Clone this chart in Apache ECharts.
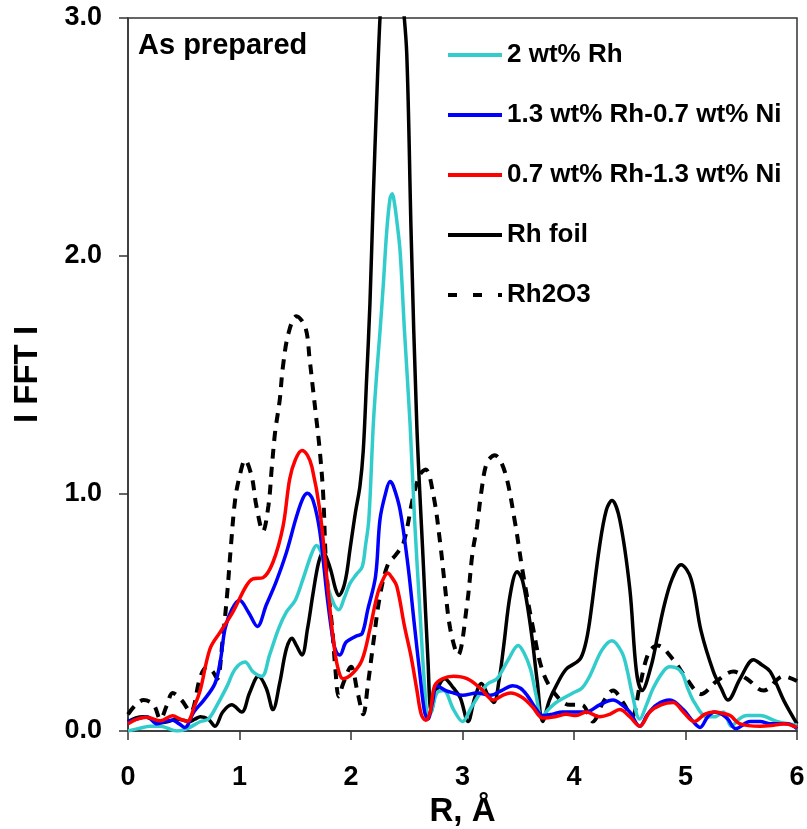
<!DOCTYPE html>
<html>
<head>
<meta charset="utf-8">
<script src="https://cdn.jsdelivr.net/npm/echarts@6/dist/echarts.min.js"></script>
<style>
html,body{margin:0;padding:0;background:#fff;}
#chart{width:807px;height:829px;}
</style>
</head>
<body>
<div id="chart"></div>
<script>
// ---- data ----
var seriesNames = ["2 wt% Rh", "1.3 wt% Rh-0.7 wt% Ni", "0.7 wt% Rh-1.3 wt% Ni", "Rh foil", "Rh2O3"];
var xTicks = [0, 1, 2, 3, 4, 5, 6];
var yTicks = [0.0, 1.0, 2.0, 3.0];

var rh2 = [[0.00,0.00],[0.09,0.01],[0.20,0.02],[0.29,0.02],[0.44,0.00],[0.53,0.01],[0.65,0.04],[0.72,0.05],[0.80,0.11],[0.89,0.19],[0.96,0.26],[1.05,0.29],[1.12,0.25],[1.20,0.23],[1.27,0.32],[1.35,0.43],[1.42,0.50],[1.50,0.55],[1.57,0.64],[1.65,0.75],[1.69,0.78],[1.74,0.74],[1.79,0.61],[1.85,0.53],[1.89,0.51],[1.94,0.56],[1.99,0.62],[2.05,0.66],[2.10,0.69],[2.13,0.78],[2.16,0.89],[2.20,1.29],[2.23,1.50],[2.26,1.68],[2.29,1.88],[2.32,2.10],[2.35,2.24],[2.37,2.26],[2.39,2.22],[2.41,2.15],[2.44,2.02],[2.48,1.68],[2.53,1.29],[2.57,0.89],[2.62,0.49],[2.66,0.19],[2.69,0.07],[2.72,0.08],[2.77,0.16],[2.83,0.17],[2.92,0.09],[3.00,0.04],[3.08,0.10],[3.16,0.16],[3.23,0.20],[3.31,0.22],[3.41,0.30],[3.50,0.36],[3.55,0.33],[3.61,0.26],[3.66,0.15],[3.71,0.06],[3.77,0.09],[3.84,0.12],[3.99,0.16],[4.07,0.18],[4.14,0.23],[4.25,0.34],[4.34,0.38],[4.43,0.33],[4.48,0.25],[4.52,0.16],[4.59,0.05],[4.65,0.11],[4.71,0.18],[4.80,0.25],[4.86,0.27],[4.96,0.25],[5.02,0.18],[5.08,0.12],[5.19,0.06],[5.26,0.06],[5.34,0.08],[5.41,0.02],[5.48,0.05],[5.55,0.065],[5.67,0.065],[5.82,0.04],[6.00,0.025]];

var rh13ni07 = [[0.00,0.04],[0.08,0.05],[0.17,0.06],[0.26,0.03],[0.33,0.04],[0.40,0.045],[0.46,0.03],[0.51,0.015],[0.59,0.08],[0.68,0.13],[0.78,0.20],[0.83,0.30],[0.87,0.43],[0.93,0.51],[1.00,0.55],[1.08,0.50],[1.16,0.44],[1.24,0.53],[1.33,0.63],[1.42,0.75],[1.51,0.90],[1.57,0.98],[1.61,1.00],[1.66,0.97],[1.72,0.84],[1.79,0.55],[1.84,0.38],[1.87,0.33],[1.90,0.32],[1.95,0.37],[1.99,0.385],[2.05,0.40],[2.10,0.41],[2.15,0.51],[2.22,0.65],[2.26,0.89],[2.31,1.00],[2.35,1.05],[2.38,1.03],[2.44,0.93],[2.51,0.70],[2.57,0.44],[2.62,0.23],[2.66,0.08],[2.69,0.05],[2.73,0.12],[2.77,0.19],[2.85,0.17],[2.92,0.16],[3.00,0.15],[3.13,0.16],[3.25,0.15],[3.35,0.17],[3.45,0.19],[3.52,0.18],[3.58,0.15],[3.65,0.10],[3.72,0.065],[3.80,0.07],[3.90,0.08],[4.00,0.08],[4.11,0.08],[4.23,0.11],[4.35,0.13],[4.43,0.11],[4.50,0.08],[4.59,0.02],[4.66,0.07],[4.74,0.11],[4.86,0.13],[4.98,0.09],[5.05,0.05],[5.13,0.015],[5.20,0.06],[5.26,0.08],[5.33,0.07],[5.38,0.05],[5.45,0.01],[5.58,0.04],[5.67,0.04],[5.76,0.03],[5.91,0.03],[6.00,0.01]];

var rh07ni13 = [[0.00,0.03],[0.08,0.05],[0.17,0.058],[0.29,0.043],[0.40,0.064],[0.47,0.05],[0.53,0.04],[0.60,0.11],[0.65,0.176],[0.735,0.345],[0.825,0.415],[0.94,0.50],[1.06,0.61],[1.12,0.64],[1.21,0.645],[1.30,0.71],[1.39,0.86],[1.45,1.06],[1.50,1.14],[1.56,1.18],[1.61,1.16],[1.65,1.11],[1.72,0.93],[1.78,0.66],[1.81,0.52],[1.84,0.39],[1.88,0.27],[1.93,0.22],[2.02,0.245],[2.10,0.30],[2.17,0.43],[2.24,0.58],[2.30,0.65],[2.33,0.665],[2.36,0.65],[2.41,0.61],[2.48,0.44],[2.54,0.31],[2.59,0.175],[2.63,0.07],[2.67,0.045],[2.71,0.08],[2.75,0.19],[2.82,0.22],[2.92,0.23],[3.04,0.22],[3.16,0.18],[3.28,0.13],[3.36,0.15],[3.43,0.16],[3.54,0.14],[3.63,0.10],[3.72,0.055],[3.83,0.06],[3.93,0.07],[4.02,0.065],[4.11,0.08],[4.23,0.06],[4.32,0.07],[4.41,0.09],[4.50,0.06],[4.59,0.02],[4.68,0.08],[4.78,0.11],[4.89,0.12],[4.98,0.08],[5.08,0.04],[5.17,0.07],[5.25,0.08],[5.33,0.075],[5.40,0.065],[5.49,0.03],[5.67,0.02],[5.80,0.025],[5.88,0.03],[6.00,0.015]];

var rhFoil = [[0.00,0.04],[0.07,0.055],[0.14,0.06],[0.21,0.05],[0.29,0.035],[0.36,0.04],[0.44,0.05],[0.50,0.045],[0.55,0.04],[0.60,0.05],[0.65,0.06],[0.72,0.05],[0.78,0.02],[0.85,0.08],[0.93,0.11],[1.02,0.08],[1.09,0.16],[1.17,0.23],[1.24,0.18],[1.30,0.09],[1.36,0.20],[1.42,0.345],[1.47,0.39],[1.51,0.36],[1.56,0.32],[1.61,0.43],[1.66,0.58],[1.71,0.71],[1.75,0.75],[1.81,0.69],[1.86,0.60],[1.89,0.57],[1.93,0.60],[1.96,0.66],[1.99,0.76],[2.04,0.92],[2.08,1.03],[2.11,1.18],[2.14,1.48],[2.17,1.80],[2.20,2.25],[2.23,2.65],[2.26,3.00],[2.30,3.30],[2.36,3.45],[2.42,3.35],[2.46,3.10],[2.50,2.85],[2.54,2.08],[2.59,1.29],[2.65,0.69],[2.69,0.30],[2.72,0.08],[2.76,0.16],[2.84,0.22],[2.92,0.18],[2.98,0.14],[3.05,0.04],[3.11,0.14],[3.17,0.20],[3.23,0.15],[3.28,0.12],[3.33,0.22],[3.37,0.36],[3.43,0.58],[3.49,0.67],[3.54,0.63],[3.61,0.44],[3.67,0.21],[3.72,0.04],[3.78,0.13],[3.84,0.19],[3.93,0.26],[4.05,0.30],[4.10,0.36],[4.14,0.46],[4.23,0.78],[4.29,0.93],[4.34,0.97],[4.41,0.89],[4.50,0.60],[4.56,0.25],[4.61,0.17],[4.69,0.27],[4.75,0.40],[4.81,0.53],[4.88,0.64],[4.96,0.70],[5.05,0.64],[5.14,0.42],[5.25,0.25],[5.32,0.18],[5.38,0.13],[5.49,0.22],[5.61,0.30],[5.68,0.28],[5.76,0.25],[5.88,0.13],[5.95,0.07],[6.00,0.03]];

var rh2o3 = [[0.00,0.07],[0.07,0.11],[0.14,0.13],[0.23,0.11],[0.29,0.05],[0.35,0.11],[0.40,0.16],[0.48,0.13],[0.56,0.08],[0.65,0.23],[0.71,0.27],[0.76,0.25],[0.80,0.22],[0.85,0.39],[0.89,0.58],[0.92,0.76],[0.96,0.97],[1.00,1.07],[1.05,1.14],[1.11,1.07],[1.15,0.95],[1.21,0.84],[1.26,0.95],[1.29,1.11],[1.32,1.26],[1.36,1.39],[1.39,1.535],[1.44,1.675],[1.51,1.745],[1.59,1.70],[1.63,1.56],[1.66,1.435],[1.69,1.31],[1.72,1.18],[1.75,1.00],[1.78,0.67],[1.83,0.44],[1.86,0.26],[1.89,0.145],[1.93,0.20],[2.00,0.27],[2.06,0.16],[2.11,0.07],[2.15,0.19],[2.20,0.37],[2.26,0.57],[2.33,0.70],[2.40,0.74],[2.47,0.79],[2.56,0.99],[2.62,1.08],[2.67,1.10],[2.74,0.99],[2.80,0.79],[2.84,0.62],[2.89,0.43],[2.96,0.32],[3.04,0.53],[3.09,0.75],[3.13,0.86],[3.17,1.01],[3.22,1.13],[3.29,1.16],[3.38,1.09],[3.47,0.88],[3.54,0.67],[3.63,0.44],[3.72,0.25],[3.84,0.15],[3.96,0.11],[4.07,0.11],[4.17,0.04],[4.26,0.12],[4.35,0.17],[4.44,0.12],[4.52,0.06],[4.59,0.19],[4.67,0.33],[4.75,0.36],[4.89,0.30],[5.01,0.22],[5.14,0.155],[5.28,0.21],[5.43,0.25],[5.55,0.22],[5.70,0.17],[5.88,0.23],[6.00,0.21]];

var seriesData = [rh2, rh13ni07, rh07ni13, rhFoil, rh2o3];
var seriesColors = ["#33CCCC", "#0000FF", "#FF0000", "#000000", "#000000"];

var FONT = "'Liberation Sans', Arial, Helvetica, sans-serif";
var chart = echarts.init(document.getElementById('chart'), null, {renderer: 'canvas'});

var SOLID_ICON = 'path://M0,0L54,0L54,4L0,4Z';
var DASH_ICON = 'path://M0,0h9v4h-9z M25,0h9v4h-9z M50,0h4v4h-4z';

var series = seriesNames.map(function (n, i) {
  return {
    name: n,
    type: 'line',
    data: seriesData[i],
    symbol: 'none',
    showSymbol: false,
    smooth: 0.35,
    clip: true,
    z: i === 4 ? 2 : (i === 3 ? 3 : 4 + i),
    lineStyle: {
      color: seriesColors[i],
      width: i === 4 ? 4 : 3.5,
      type: i === 4 ? [10, 8] : 'solid',
      cap: 'butt'
    },
    itemStyle: {color: seriesColors[i]}
  };
});

chart.setOption({
  animation: false,
  backgroundColor: '#fff',
  title: {
    text: 'As prepared',
    left: 133, top: 26,
    textStyle: {fontFamily: FONT, fontSize: 29, fontWeight: 'bold', color: '#000'}
  },
  legend: {
    orient: 'vertical',
    left: 443, top: 35,
    itemWidth: 54, itemHeight: 4,
    itemGap: 30,
    data: seriesNames.map(function (n, i) {
      return {name: n, icon: i === 4 ? DASH_ICON : SOLID_ICON};
    }),
    textStyle: {fontFamily: FONT, fontSize: 26, fontWeight: 'bold', color: '#000', lineHeight: 30}
  },
  grid: {
    left: 128, right: 10, top: 18, bottom: 98,
    outerBoundsMode: 'none',
    containLabel: false,
    show: true, borderColor: '#333', borderWidth: 1.5, backgroundColor: 'transparent'
  },
  xAxis: {
    type: 'value', min: 0, max: 6, interval: 1,
    name: 'R, Å', nameLocation: 'middle', nameGap: 61,
    nameTextStyle: {fontFamily: FONT, fontSize: 33, fontWeight: 'bold', color: '#000'},
    axisLine: {lineStyle: {color: '#333', width: 1.5}},
    axisTick: {show: true, inside: false, length: 9, lineStyle: {color: '#333', width: 1.5}},
    axisLabel: {fontFamily: FONT, fontSize: 27, fontWeight: 'bold', color: '#000', margin: 33,
      formatter: function (v) { return xTicks.indexOf(v) >= 0 ? String(v) : ''; }},
    splitLine: {show: false}
  },
  yAxis: {
    type: 'value', min: 0, max: 3, interval: 1,
    name: 'I FFT I', nameLocation: 'middle', nameGap: 84, nameRotate: 90,
    nameTextStyle: {fontFamily: FONT, fontSize: 33, fontWeight: 'bold', color: '#000'},
    axisLine: {show: true, lineStyle: {color: '#333', width: 1.5}},
    axisTick: {show: true, inside: false, length: 9, lineStyle: {color: '#333', width: 1.5}},
    axisLabel: {fontFamily: FONT, fontSize: 27, fontWeight: 'bold', color: '#000', margin: 26,
      formatter: function (v) { return yTicks.indexOf(v) >= 0 ? v.toFixed(1) : ''; }},
    splitLine: {show: false}
  },
  series: series
});
</script>
</body>
</html>
